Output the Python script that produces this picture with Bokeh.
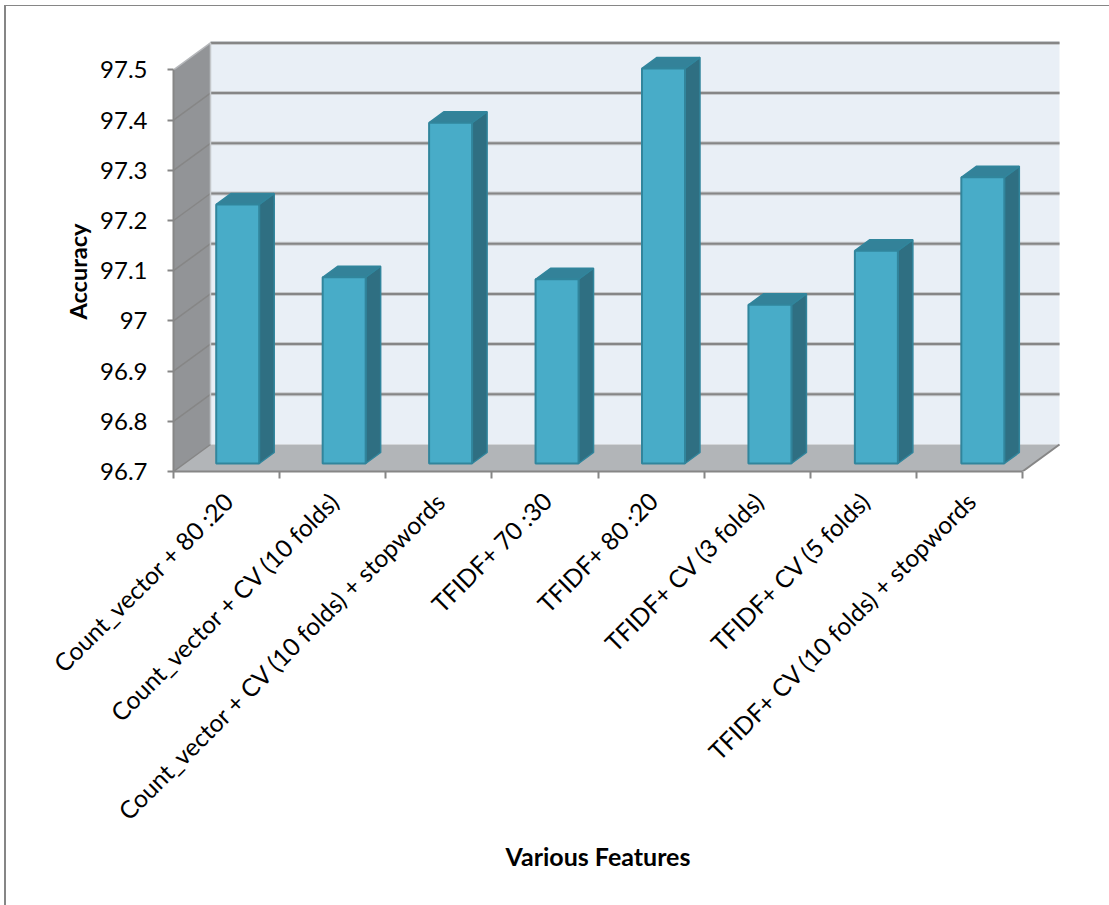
from bokeh.embed import file_html
from bokeh.models import FixedTicker, Range1d, Title
from bokeh.plotting import figure
from bokeh.resources import INLINE
import math

categories = [
    "Count_vector + 80 :20",
    "Count_vector + CV (10 folds)",
    "Count_vector + CV (10 folds) + stopwords",
    "TFIDF+ 70 :30",
    "TFIDF+ 80 :20",
    "TFIDF+ CV (3 folds)",
    "TFIDF+ CV (5 folds)",
    "TFIDF+ CV (10 folds) + stopwords",
]
accuracy = [97.216, 97.071, 97.379, 97.067, 97.487, 97.016, 97.124, 97.270]
y_ticks = [96.7, 96.8, 96.9, 97.0, 97.1, 97.2, 97.3, 97.4, 97.5]
y_tick_labels = ["96.7", "96.8", "96.9", "97", "97.1", "97.2", "97.3", "97.4", "97.5"]

AXIS = "#868686"
FONT = "Lato"

# Pixel scale of the plot area
PX_X = 106.125
PX_Y = 502.0
LEFT, TOP, RIGHT, BOTTOM = 173, 40, 1062, 471
WIDTH, HEIGHT = 1109, 905

# Oblique projection: depth of the chart box and of each bar, in data units
box_dx, box_dy = 37 / PX_X, 27 / PX_Y
bar_dx, bar_dy = 15 / PX_X, 11 / PX_Y
bar_w = 43 / PX_X
bar_pitch = 1.003
base = y_ticks[0]
top_tick = y_ticks[-1]
n = len(categories)

p = figure(
    width=WIDTH, height=HEIGHT, output_backend="svg", toolbar_location=None,
    x_range=Range1d(0, (RIGHT - LEFT) / PX_X),
    y_range=Range1d(base, base + (BOTTOM - TOP) / PX_Y),
    min_border_left=LEFT, min_border_right=WIDTH - RIGHT,
    min_border_top=TOP, min_border_bottom=HEIGHT - BOTTOM,
    outline_line_color=None, background_fill_color="white",
    border_fill_color="white",
)
p.grid.visible = False

# Back wall
p.quad(left=box_dx, right=n + box_dx, bottom=base + box_dy, top=top_tick + box_dy,
       fill_color="#e9eff6", line_color=None)

# Side wall, shaded from dark at the top to lighter at the bottom.
# Each band reaches down to the floor so that no seams show between bands.
steps = 40
for i in reversed(range(steps)):
    b = base + (top_tick - base) * (steps - i) / steps
    t = i / (steps - 1)
    col = "#%02x%02x%02x" % (int(146 + 30 * t), int(148 + 30 * t), int(151 + 30 * t))
    p.patch([0, box_dx, box_dx, 0], [base, base + box_dy, b + box_dy, b],
            fill_color=col, line_color=None)

# Floor
p.patch([0, n, n + box_dx, box_dx], [base, base, base + box_dy, base + box_dy],
        fill_color="#b2b5b8", line_color=None)
p.segment(n, base, n + box_dx, base + box_dy, line_color=AXIS, line_width=2)

# Gridlines running along the side wall and the back wall, with a soft edge
grid_levels = y_ticks[1:]
p.segment([box_dx] * len(grid_levels), [v + box_dy for v in grid_levels],
          [n + box_dx] * len(grid_levels), [v + box_dy for v in grid_levels],
          line_color="#c6c9cc", line_width=4)
p.segment([box_dx] * len(grid_levels), [v + box_dy for v in grid_levels],
          [n + box_dx] * len(grid_levels), [v + box_dy for v in grid_levels],
          line_color=AXIS, line_width=2)
p.segment([0] * n, y_ticks[:-1], [box_dx] * n, [v + box_dy for v in y_ticks[:-1]],
          line_color=AXIS, line_width=1.5)
p.segment(0, top_tick, box_dx, top_tick + box_dy, line_color="#b5b7ba", line_width=1.5)
p.segment(box_dx, base + box_dy, box_dx, top_tick + box_dy, line_color="#c4c7ca", line_width=1.5)

# Bars: front face, side face and top face
lift = (box_dy - bar_dy) / 2
shift = (box_dx - bar_dx) / 2
for i, v in enumerate(accuracy):
    x0 = (i + 0.5) * bar_pitch + shift - bar_w / 2
    x1 = x0 + bar_w
    y0, y1 = base + lift, v + lift
    p.patch([x1, x1 + bar_dx, x1 + bar_dx, x1], [y0, y0 + bar_dy, y1 + bar_dy, y1],
            fill_color="#2f6f82", line_color="#31859c", line_width=1.5)
    p.patch([x0, x0 + bar_dx, x1 + bar_dx, x1], [y1, y1 + bar_dy, y1 + bar_dy, y1],
            fill_color="#338299", line_color="#31859c", line_width=1.5)
    p.quad(left=x0, right=x1, bottom=y0, top=y1,
           fill_color="#48acc8", line_color="#31859c", line_width=2)

# Value axis
ya = p.yaxis[0]
ya.ticker = FixedTicker(ticks=y_ticks)
ya.major_label_overrides = dict(zip(y_ticks, y_tick_labels))
ya.bounds = (base, top_tick)
ya.axis_line_color = AXIS
ya.axis_line_width = 2
ya.major_tick_line_color = AXIS
ya.major_tick_line_width = 2
ya.major_tick_in = 0
ya.major_tick_out = 6
ya.minor_tick_line_color = None
ya.major_label_standoff = 20
ya.major_label_text_font = FONT
ya.major_label_text_font_size = "24px"
ya.major_label_text_color = "black"

# Category axis: labels sit mid-slot, tick marks sit on the slot edges
LABEL_SHIFT = 0.02
label_pos = [i + 0.5 + LABEL_SHIFT for i in range(n)]
xa = p.xaxis[0]
xa.ticker = FixedTicker(ticks=label_pos, minor_ticks=list(range(n + 1)))
xa.major_label_overrides = dict(zip(label_pos, categories))
xa.major_label_orientation = math.pi / 4
xa.bounds = (0, n)
xa.axis_line_color = AXIS
xa.axis_line_width = 2
xa.major_tick_line_color = None
xa.minor_tick_line_color = AXIS
xa.minor_tick_line_width = 2
xa.minor_tick_in = 0
xa.minor_tick_out = 7
xa.major_tick_in = 0
xa.major_tick_out = 0
xa.major_label_standoff = 18
xa.major_label_text_font = FONT
xa.major_label_text_font_size = "24.5px"
xa.major_label_text_color = "black"

# Axis titles, offset from the plot area's lower-left corner
p.add_layout(Title(text="Accuracy", align="left", offset=152, standoff=11,
                   text_font=FONT, text_font_style="bold", text_font_size="23.5px",
                   text_color="black"), "left")
p.add_layout(Title(text="Various Features", align="left", offset=332, standoff=0,
                   text_font=FONT, text_font_style="bold", text_font_size="25px",
                   text_color="black"), "below")

# Sheet edge along the top and left of the page
edge_css = (
    "<style>body::before{content:'';position:fixed;left:4px;top:5px;right:0;bottom:0;"
    "border-left:2px solid #868686;border-top:1px solid #868686;z-index:10;"
    "pointer-events:none}</style></head>"
)
html = file_html(p, INLINE).replace("</head>", edge_css, 1)
open("out.html", "w").write(html)
